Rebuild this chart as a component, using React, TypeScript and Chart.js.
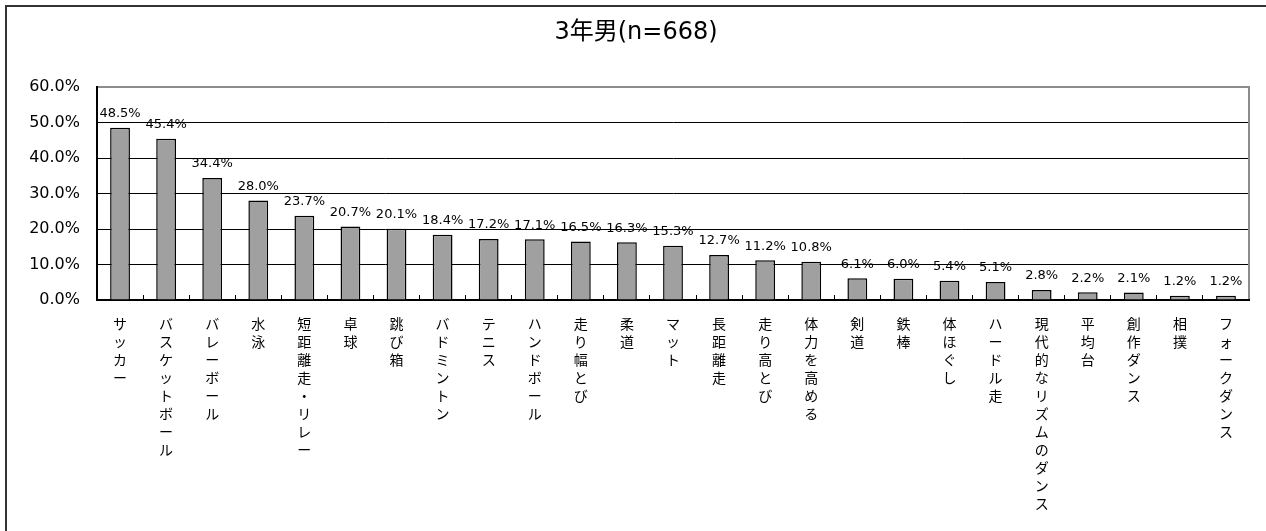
import React, { useEffect, useRef } from 'react';
import { Chart, registerables } from 'chart.js';

Chart.register(...registerables);

const TITLE = '3年男(n=668)';

const categories: string[] = [
  'サッカー',
  'バスケットボール',
  'バレーボール',
  '水泳',
  '短距離走・リレー',
  '卓球',
  '跳び箱',
  'バドミントン',
  'テニス',
  'ハンドボール',
  '走り幅とび',
  '柔道',
  'マット',
  '長距離走',
  '走り高とび',
  '体力を高める',
  '剣道',
  '鉄棒',
  '体ほぐし',
  'ハードル走',
  '現代的なリズムのダンス',
  '平均台',
  '創作ダンス',
  '相撲',
  'フォークダンス',
];

const values: number[] = [
  48.5, 45.4, 34.4, 28.0, 23.7, 20.7, 20.1, 18.4, 17.2, 17.1, 16.5, 16.3, 15.3,
  12.7, 11.2, 10.8, 6.1, 6.0, 5.4, 5.1, 2.8, 2.2, 2.1, 1.2, 1.2,
];

const Y_MIN = 0;
const Y_MAX = 60;
const Y_STEP = 10;

export default function App() {
  const ref = useRef<HTMLCanvasElement>(null);

  useEffect(() => {
    const canvas = ref.current;
    if (!canvas) return;

    const dataLabels = {
      id: 'dataLabels',
      afterDatasetsDraw(chart: any) {
        const ctx = chart.ctx;
        const meta = chart.getDatasetMeta(0);
        ctx.save();
        ctx.font = '13px "DejaVu Sans", sans-serif';
        ctx.fillStyle = '#000';
        ctx.textAlign = 'center';
        ctx.textBaseline = 'middle';
        meta.data.forEach((el: any, i: number) => {
          ctx.fillText(values[i].toFixed(1) + '%', el.x, el.y - 14);
        });
        ctx.restore();
      },
    };

    const frame = {
      id: 'frame',
      afterDraw(chart: any) {
        const { left, right, top, bottom } = chart.chartArea;
        const ctx = chart.ctx;
        ctx.save();
        ctx.strokeStyle = '#8c8c8c';
        ctx.lineWidth = 2;
        ctx.beginPath();
        ctx.moveTo(left + 1, top);
        ctx.lineTo(right, top);
        ctx.lineTo(right, bottom - 1);
        ctx.stroke();
        ctx.restore();
      },
    };

    const chart = new Chart(canvas, {
      type: 'bar',
      data: {
        labels: categories.map((s) => Array.from(s)),
        datasets: [
          {
            data: values,
            backgroundColor: '#a0a0a0',
            borderColor: '#000',
            borderWidth: 1.5,
            barPercentage: 0.43,
            categoryPercentage: 1,
          },
        ],
      },
      options: {
        animation: false,
        responsive: true,
        maintainAspectRatio: false,
        layout: { padding: { left: 16, right: 17, top: 0, bottom: 0 } },
        plugins: {
          legend: { display: false },
          tooltip: { enabled: false },
          title: {
            display: true,
            text: TITLE,
            color: '#000',
            font: {
              family: '"DejaVu Sans", "Noto Sans CJK JP", sans-serif',
              size: 24,
              weight: 'normal',
              lineHeight: 1.2,
            },
            padding: { top: 11.6, bottom: 39.6 },
          },
        },
        scales: {
          x: {
            offset: true,
            grid: {
              offset: true,
              drawOnChartArea: false,
              drawTicks: true,
              tickLength: -5,
              color: '#000',
              lineWidth: 1,
            },
            border: { display: true, color: '#000', width: 2 },
            ticks: {
              autoSkip: false,
              maxRotation: 0,
              minRotation: 0,
              padding: 20,
              color: '#000',
              font: {
                family: '"Noto Sans CJK JP", sans-serif',
                size: 14,
                lineHeight: '18px',
              },
            },
            afterFit(scale: any) {
              scale.height = 267;
            },
          },
          y: {
            min: Y_MIN,
            max: Y_MAX,
            grid: {
              drawTicks: false,
              color: (c: any) => (c.tick && c.tick.value === Y_MAX ? '#8c8c8c' : '#000'),
              lineWidth: 1,
            },
            border: { display: true, color: '#000', width: 2 },
            ticks: {
              stepSize: Y_STEP,
              padding: 17,
              color: '#000',
              font: { family: '"DejaVu Sans", sans-serif', size: 16 },
              callback: (v: any) => Number(v).toFixed(1) + '%',
            },
            afterFit(scale: any) {
              scale.width = 74;
            },
          },
        },
      },
      plugins: [dataLabels, frame],
    });

    return () => chart.destroy();
  }, []);

  return (
    <div style={{ position: 'fixed', inset: 0, overflow: 'hidden', background: '#fff' }}>
      <div
        style={{
          position: 'absolute',
          left: 5,
          top: 5,
          width: 1300,
          height: 600,
          borderLeft: '2px solid #333',
          borderTop: '2px solid #333',
        }}
      />
      <div style={{ position: 'absolute', left: 7, top: 7, width: 1259, height: 560 }}>
        <canvas ref={ref} />
      </div>
    </div>
  );
}
